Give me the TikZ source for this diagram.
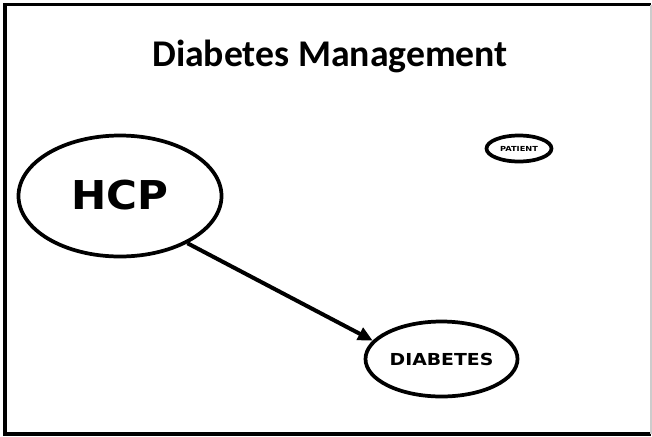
\documentclass[tikz,border=0pt]{standalone}
\usepackage{fontspec}
\usetikzlibrary{shapes.geometric,arrows.meta}
\newfontfamily\titlefont{Carlito}
\newfontfamily\capsfont{DejaVu Sans}
\tikzset{
  bubble/.style={draw=black, line width=2.8pt, ellipse, inner sep=0pt, fill=white},
  link/.style={line width=3pt, -{Triangle[length=11pt,width=10pt]}},
  frameline/.style={line width=2.3pt, black},
}
\begin{document}
\begin{tikzpicture}[x=0.75pt,y=-0.75pt]
  \useasboundingbox (0,0) rectangle (652,436);
  \fill[white] (0,0) rectangle (652,436);
  % slide frame
  \draw[frameline] (651,4.5) -- (5,4.5) -- (5,434) -- (651,434);
  \draw[line width=0.8pt, black!20] (651,4.5) -- (651,434);
  % title
  \node[anchor=base, inner sep=0pt] (title) at (330,66)
    {\titlefont\bfseries\fontsize{28.3pt}{33pt}\selectfont Diabetes Management};
  % concept bubbles
  \node[bubble, minimum width=203pt*0.75, minimum height=121pt*0.75] (hcp) at (120,196)
    {\raisebox{2pt}{\scalebox{1.06}[1]{\capsfont\bfseries\fontsize{29.8pt}{34pt}\selectfont HCP}}};
  \node[bubble, minimum width=65pt*0.75, minimum height=26pt*0.75] (patient) at (519,148.5)
    {\scalebox{1.19}[1]{\capsfont\bfseries\fontsize{5.2pt}{6pt}\selectfont PATIENT}};
  \node[bubble, minimum width=152pt*0.75, minimum height=75pt*0.75] (diab) at (441.5,359)
    {\scalebox{1.14}[1]{\capsfont\bfseries\fontsize{12.4pt}{14pt}\selectfont DIABETES}};
  % relation
  \draw[link] (hcp.-35) -- (diab.165);
\end{tikzpicture}
\end{document}
